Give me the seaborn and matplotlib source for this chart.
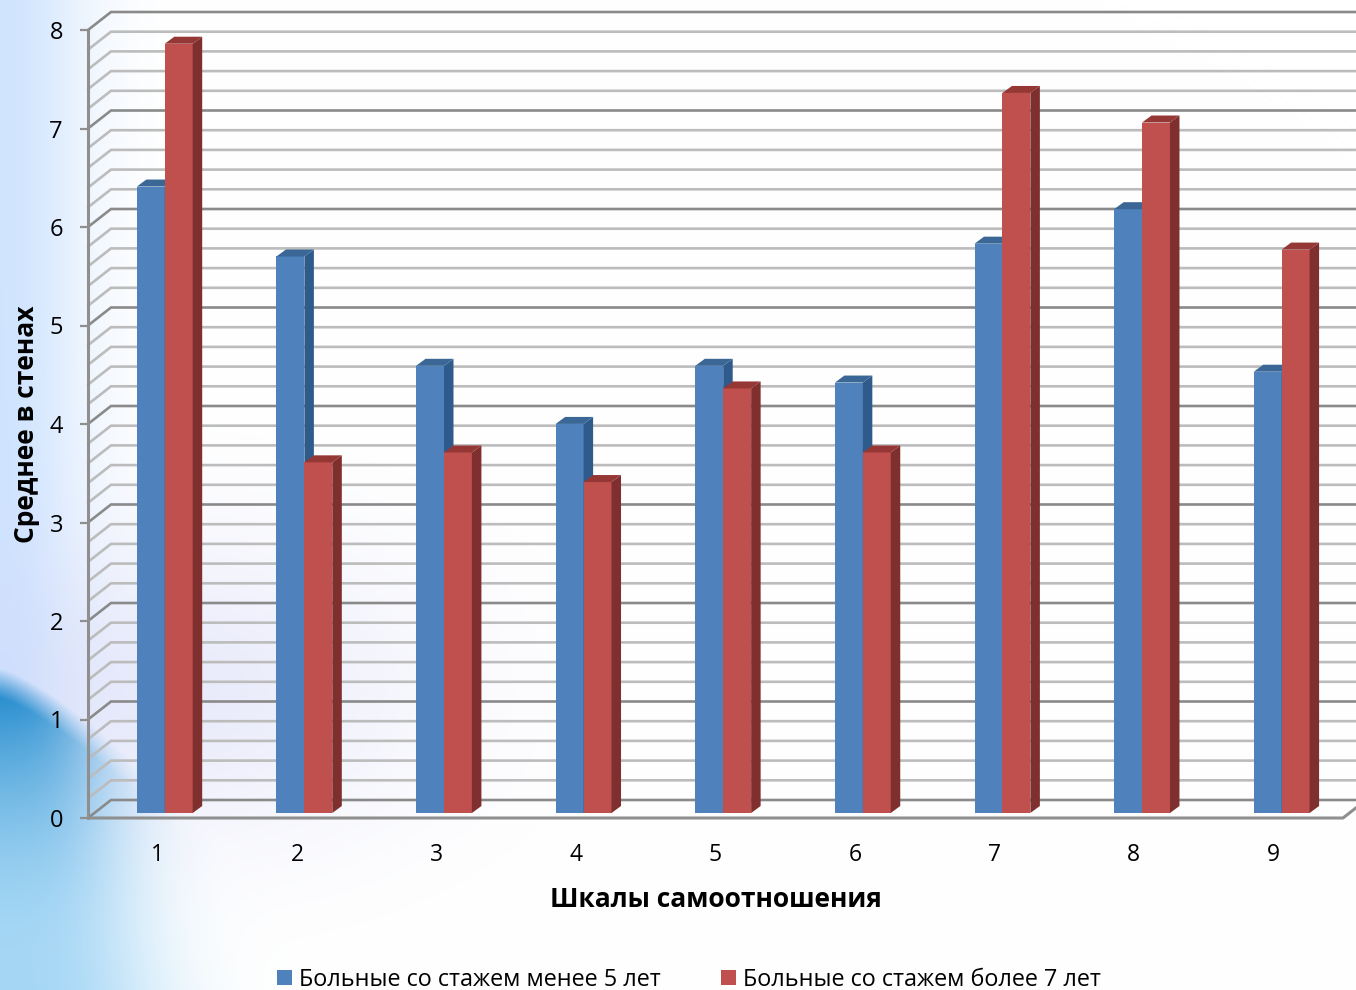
import numpy as np
import pandas as pd
import matplotlib
matplotlib.use('Agg')
import matplotlib.pyplot as plt
from matplotlib.patches import Polygon
from matplotlib.transforms import Affine2D
import seaborn as sns

scales = ['1', '2', '3', '4', '5', '6', '7', '8', '9']
under_5 = [6.36, 5.65, 4.54, 3.95, 4.54, 4.37, 5.78, 6.13, 4.48]
over_7 = [7.81, 3.56, 3.66, 3.36, 4.31, 3.66, 7.31, 7.01, 5.72]
name_under = 'Больные со стажем менее 5 лет'
name_over = 'Больные со стажем более 7 лет'
y_major = [0, 1, 2, 3, 4, 5, 6, 7, 8]
y_minor = [i / 5 for i in range(41) if i % 5 != 0]

W, H = 1356, 990
FONT = 'Open Sans'

sns.set_style('white')
plt.rcParams['font.family'] = [FONT, 'DejaVu Sans']

df = pd.DataFrame({
    'scale': scales * 2,
    'value': under_5 + over_7,
    'group': [name_under] * 9 + [name_over] * 9,
})

fig = plt.figure(figsize=(W / 100, H / 100), dpi=100, facecolor='white')

# soft slide background
bg = fig.add_axes([0, 0, 1, 1], zorder=-1)
yy, xx = np.mgrid[0:H, 0:W]
edge = np.exp(-(xx / 85.0) ** 2)[..., None]
top_tint = np.array([208, 228, 255.0])
img = 255 - edge * (255 - top_tint)
haze = (np.exp(-((xx - 170) / 250.0) ** 2 - ((yy - 690) / 150.0) ** 2) * 0.42)[..., None]
img = img * (1 - haze) + np.array([205, 208, 245.0]) * haze
curve = 668 + (xx / 90.0) ** 1.3 * 55
reach = 95 + np.clip(yy - 700, 0, None) * 0.2
low = np.clip((yy - curve) / 30.0, 0, 1) * np.exp(-(xx / reach) ** 2.6)
spot = np.clip(1 - (yy - 690) / 260.0, 0, 1)
low_col = np.zeros((H, W, 3))
for c, (a, b) in enumerate(zip((38, 140, 205), (165, 215, 245))):
    low_col[..., c] = b + (a - b) * spot ** 1.8
img = img * (1 - low[..., None]) + low_col * low[..., None]
bg.imshow(img.astype(np.uint8), aspect='auto', extent=(0, W, H, 0), interpolation='bilinear')
bg.axis('off')

# axes placed so the front plane matches the reference
ax = fig.add_axes([88 / W, 1 - 818 / H, 1255 / W, 788 / H])
ax.patch.set_alpha(0)

sns.barplot(data=df, x='scale', y='value', hue='group', ax=ax, order=scales,
            palette=['#4f81bd', '#c0504d'], saturation=1, width=0.4, gap=0,
            dodge=True, legend=False, edgecolor='none', linewidth=0)

ax.set_xlim(-0.5, 8.5)
ax.set_ylim(0, 8)
px_x = 9.0 / 1255
px_y = 8.0 / 788
depth_x, depth_y = 23 * px_x, 18 * px_y

# back wall and left wall grid
for v in y_minor + y_major:
    major = v in y_major
    col = '#8a8a8a' if major else '#bcbcbc'
    ax.plot([-0.5, -0.5 + depth_x, 8.5 + depth_x], [v, v + depth_y, v + depth_y],
            color=col, lw=1.9, zorder=1, clip_on=False, solid_joinstyle='miter')

# front floor and axis lines
ax.plot([-0.5, 8.5, 8.5 + depth_x], [0, 0, depth_y], color='#8f8f8f', lw=2.2, zorder=2, clip_on=False)
ax.plot([-0.5, -0.5], [0, 8], color='#8f8f8f', lw=2.2, zorder=2, clip_on=False)

# 3d faces for the bars
shift = ax.transData + Affine2D().scale(1.0012, 1).translate(6.85, 5)
face_x, face_y = 9.5 * px_x, 7 * px_y
shades = [('#2f5b8c', '#3a6796'), ('#7e2f2e', '#953735')]
for k, (cont, (side, top)) in enumerate(zip(ax.containers, shades)):
    for bar in cont:
        x0, x1 = bar.get_x(), bar.get_x() + bar.get_width()
        h = bar.get_height()
        bar.set_transform(shift)
        bar.set_zorder(3 + k)
        ax.add_patch(Polygon([(x1, 0), (x1 + face_x, face_y), (x1 + face_x, h + face_y), (x1, h)],
                             facecolor=side, edgecolor='none', transform=shift, zorder=3 + k, clip_on=False))
        ax.add_patch(Polygon([(x0, h), (x0 + face_x, h + face_y), (x1 + face_x, h + face_y), (x1, h)],
                             facecolor=top, edgecolor='none', transform=shift, zorder=3 + k, clip_on=False))

sns.despine(ax=ax, left=True, bottom=True, top=True, right=True)
ax.set_yticks(y_major)
ax.set_yticklabels([str(v) for v in y_major])
ax.tick_params(axis='y', length=6, width=1.6, color='#8f8f8f', pad=12, labelsize=17, labelcolor='black', left=True)
ax.tick_params(axis='x', length=0, pad=18, labelsize=16.5, labelcolor='black')
ax.set_xlabel('Шкалы самоотношения', fontsize=19, fontweight='bold', labelpad=14, color='black')
ax.set_ylabel('Среднее в стенах', fontsize=19, fontweight='bold', labelpad=6.5, color='black')

handles = [c[0] for c in ax.containers]
leg = fig.legend(handles, [name_under, name_over], loc='lower center', bbox_to_anchor=(689 / W, -0.023),
                 ncol=2, frameon=False, fontsize=16.8, handlelength=0.65, handleheight=0.65,
                 handletextpad=0.3, columnspacing=2.6, labelcolor='black')

fig.savefig('out.png', dpi=100)
